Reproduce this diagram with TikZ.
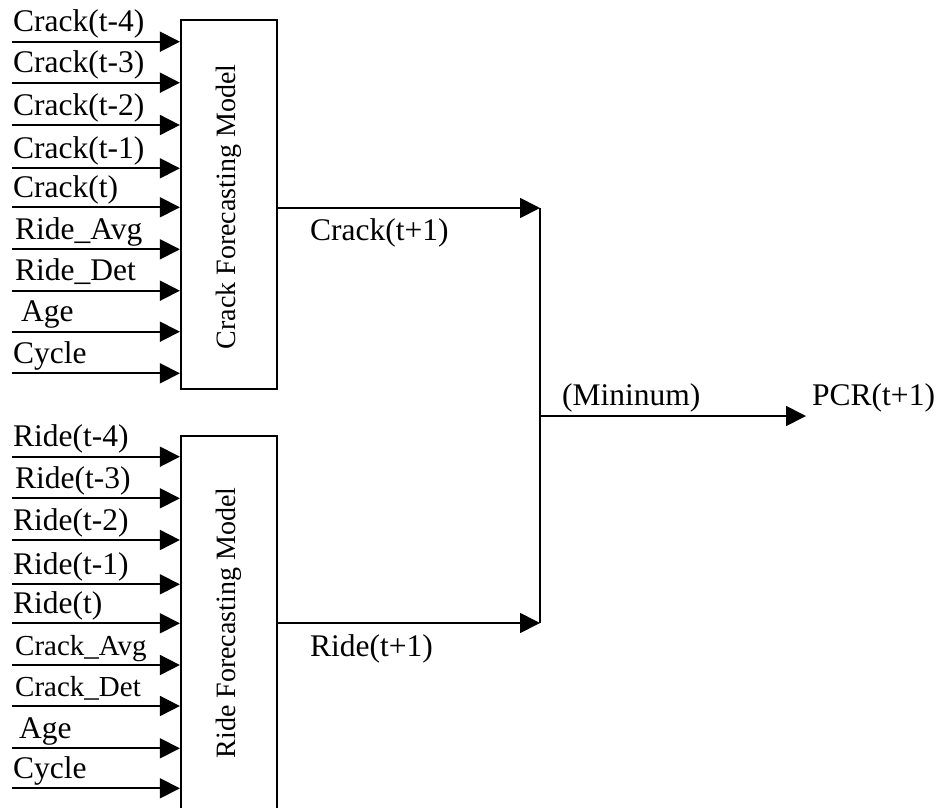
\documentclass[tikz,border=0pt]{standalone}
\usepackage{fontspec}
\setmainfont{Liberation Serif}
\usetikzlibrary{arrows.meta}
\begin{document}
\begin{tikzpicture}[x=1pt,y=-1pt,
  box/.style={draw,line width=2.2pt,minimum width=96pt,inner sep=0pt},
  arr/.style={line width=1.8pt,-{Triangle[length=20pt,width=20pt]}},
  wire/.style={line width=2.2pt},
  lab/.style={anchor=base west,inner sep=0pt,font=\fontsize{31.5}{36}\selectfont},
  slab/.style={anchor=base west,inner sep=0pt,font=\fontsize{29}{34}\selectfont},
  rot/.style={rotate=90,inner sep=0pt,font=\fontsize{28}{32}\selectfont}]
\useasboundingbox (0,0) rectangle (940,807);
\begin{scope}
\clip (0,0) rectangle (940,807);
% model boxes
\node[box,minimum height=369pt] (cbox) at (229,204.5) {};
\node[rot] (ctext) at (229,207) {Crack Forecasting Model};
\node[box,minimum height=374pt] (rbox) at (229,623) {};
\node[rot] (rtext) at (229,623) {Ride Forecasting Model};
% crack inputs
\foreach \i/\y/\t/\st/\dx in {1/41.7/Crack(t-4)/lab/13,2/82.7/Crack(t-3)/lab/13,3/125/Crack(t-2)/lab/13,4/168.3/Crack(t-1)/lab/13,5/207.3/Crack(t)/lab/13,6/249.3/Ride\_Avg/lab/15,7/290.7/Ride\_Det/lab/15,8/331.7/Age/lab/21,9/373.3/Cycle/lab/13}{
  \coordinate (ci\i) at (12,\y);
  \draw[arr] (ci\i) -- (ci\i -| cbox.west);
  \node[\st] (cl\i) at (\dx,\y-10) {\t};
}
% ride inputs
\foreach \i/\y/\t/\st/\dx in {1/456.7/Ride(t-4)/lab/13,2/498.3/Ride(t-3)/lab/15,3/540/Ride(t-2)/lab/13,4/584.3/Ride(t-1)/lab/13,5/623.3/Ride(t)/lab/13,6/665/Crack\_Avg/slab/15,7/706/Crack\_Det/slab/15,8/748.3/Age/lab/19,9/788.3/Cycle/lab/13}{
  \coordinate (ri\i) at (12,\y);
  \draw[arr] (ri\i) -- (ri\i -| rbox.west);
  \node[\st] (rl\i) at (\dx,\y-10) {\t};
}
\end{scope}
% outputs and junction
\coordinate (jt) at (540,208);
\coordinate (jb) at (540,623);
\coordinate (jm) at (540,416);
\coordinate (pout) at (806,416);
\draw[arr] (jt -| cbox.east) -- (jt);
\draw[arr] (jb -| rbox.east) -- (jb);
\draw[wire] (jt) -- (jb);
\draw[arr] (jm) -- (pout);
\node[lab] (cout) at (310,240) {Crack(t+1)};
\node[lab] (rout) at (310,656) {Ride(t+1)};
\node[lab] (minl) at (562,405) {(Mininum)};
\node[lab] (pcr) at (812,405) {PCR(t+1)};
\end{tikzpicture}
\end{document}
